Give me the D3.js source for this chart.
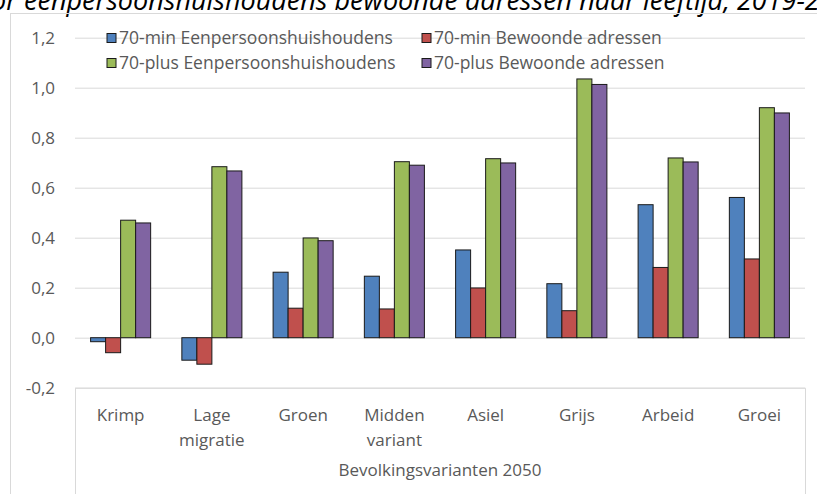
<!DOCTYPE html>
<html>
<head>
<meta charset="utf-8">
<script src="https://cdn.jsdelivr.net/npm/d3@7"></script>
<style>
  body { margin: 0; background: #fff; }
  svg { display: block; }
  text { font-family: 'Open Sans', sans-serif; fill: #595959; }
</style>
</head>
<body>
<svg id="chart" width="817" height="494"></svg>
<script>
// Bevolkingsvarianten 2050 (line breaks in labels marked with \n)
const categories = ["Krimp", "Lage\nmigratie", "Groen", "Midden\nvariant", "Asiel", "Grijs", "Arbeid", "Groei"];

const seriesNames = [
  "70-min Eenpersoonshuishoudens",
  "70-min Bewoonde adressen",
  "70-plus Eenpersoonshuishoudens",
  "70-plus Bewoonde adressen"
];

const min70Eenpersoons = [-0.016, -0.090, 0.262, 0.246, 0.351, 0.216, 0.532, 0.561];
const min70Adressen    = [-0.060, -0.106, 0.118, 0.115, 0.199, 0.108, 0.281, 0.315];
const plus70Eenpersoons = [0.470, 0.684, 0.399, 0.704, 0.716, 1.035, 0.719, 0.920];
const plus70Adressen    = [0.459, 0.667, 0.388, 0.690, 0.699, 1.013, 0.703, 0.899];

const yTicks = [-0.2, 0, 0.2, 0.4, 0.6, 0.8, 1.0, 1.2];
const xTitle = "Bevolkingsvarianten 2050";
const chartTitle = "Figuur 4. Groeifactor eenpersoonshuishoudens bewoonde adressen naar leeftijd, 2019-2050";

const seriesValues = [min70Eenpersoons, min70Adressen, plus70Eenpersoons, plus70Adressen];
const colors = ["#4f81bd", "#c0504d", "#9bbb59", "#8064a2"];

const svg = d3.select("#chart");
const plot = { left: 75, right: 805, top: 37.7, bottom: 387.7 };
const labelSize = "17px";

const nl = d3.formatLocale({ decimal: ",", thousands: ".", grouping: [3], currency: ["€", ""], minus: "-" });
const fmt = nl.format(".1f");

const x = d3.scaleBand()
  .domain(categories)
  .range([plot.left, plot.right])
  .paddingInner(0.342)
  .paddingOuter(0.171);

const xs = d3.scaleBand()
  .domain(d3.range(seriesNames.length))
  .range([0, x.bandwidth()]);

const y = d3.scaleLinear()
  .domain([-0.2, 1.2])
  .range([plot.bottom, plot.top]);

// Title line at the very top (runs past the upper edge)
const title = svg.append("text")
  .attr("y", 10)
  .style("font-style", "italic")
  .style("font-size", "27px")
  .style("fill", "#000")
  .text(chartTitle);
const cut = chartTitle.indexOf("eenpersoons");
const offset = title.node().getSubStringLength(0, cut);
title.attr("x", 24 - offset);

// Chart frame
svg.append("rect")
  .attr("x", 10.5).attr("y", 13.5)
  .attr("width", 900).attr("height", 600)
  .attr("fill", "none").attr("stroke", "#d9d9d9");

// Value axis with gridlines
const yAxis = svg.append("g")
  .attr("transform", `translate(${plot.left},0)`)
  .call(d3.axisLeft(y).tickValues(yTicks).tickFormat(fmt)
    .tickSizeInner(-(plot.right - plot.left)).tickSizeOuter(0).tickPadding(20));
yAxis.select(".domain").remove();
yAxis.selectAll(".tick line").attr("stroke", "#d9d9d9");
yAxis.selectAll(".tick text")
  .style("font-size", labelSize)
  .attr("fill", "#595959")
  .style("font-family", "'Open Sans', sans-serif");

// Category axis: boxed label area below the plot
const xAxis = svg.append("g")
  .attr("transform", `translate(0,${plot.bottom})`)
  .call(d3.axisBottom(x).tickSizeInner(0).tickSizeOuter(494 - plot.bottom));
xAxis.select(".domain").attr("stroke", "#d9d9d9");
xAxis.selectAll(".tick text").each(function (d) {
  const t = d3.select(this).text(null).attr("dy", null).attr("y", 33)
    .style("font-size", labelSize).attr("fill", "#595959")
    .style("font-family", "'Open Sans', sans-serif");
  d.split("\n").forEach((line, i) => {
    t.append("tspan").attr("x", 0).attr("dy", i === 0 ? 0 : 25).text(line);
  });
});

svg.append("text")
  .attr("x", (plot.left + plot.right) / 2)
  .attr("y", 476)
  .attr("text-anchor", "middle")
  .style("font-size", labelSize)
  .text(xTitle);

// Bars
const groups = svg.append("g").selectAll("g")
  .data(categories)
  .join("g")
  .attr("transform", d => `translate(${x(d)},0)`);

groups.selectAll("rect")
  .data((d, ci) => seriesValues.map((vals, si) => ({ si, v: vals[ci] })))
  .join("rect")
  .attr("x", d => xs(d.si))
  .attr("width", xs.bandwidth())
  .attr("y", d => y(Math.max(0, d.v)))
  .attr("height", d => Math.abs(y(d.v) - y(0)))
  .attr("fill", d => colors[d.si])
  .attr("stroke", "#1a1a1a")
  .attr("stroke-width", 1);

// Legend (two rows, two columns)
const legendPos = [[107, 38], [422, 38], [107, 63], [422, 63]];
const legend = svg.append("g").selectAll("g")
  .data(seriesNames)
  .join("g")
  .attr("transform", (d, i) => `translate(${legendPos[i][0]},${legendPos[i][1]})`);
legend.append("rect")
  .attr("x", 0).attr("y", -4.5)
  .attr("width", 9).attr("height", 9)
  .attr("fill", (d, i) => colors[i])
  .attr("stroke", "#1a1a1a");
legend.append("text")
  .attr("x", 12)
  .attr("y", 6)
  .style("font-size", "17.5px")
  .text(d => d);
</script>
</body>
</html>
